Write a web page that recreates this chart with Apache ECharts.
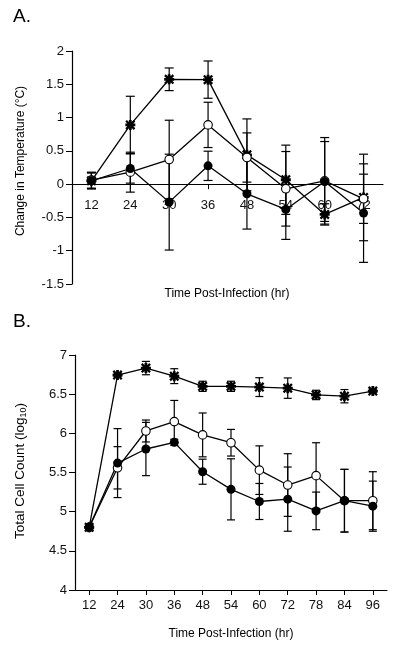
<!DOCTYPE html>
<html>
<head>
<meta charset="utf-8">
<script src="https://cdn.jsdelivr.net/npm/echarts@6/dist/echarts.min.js"></script>
<style>
html,body{margin:0;padding:0;background:#fff;}
#chart{width:400px;height:652px;}
</style>
</head>
<body>
<div id="chart"></div>
<script>
// ---- Panel A data (change in temperature, °C) ----
const catsA = ['12','24','30','36','48','54','60','72'];
const aStar = [0.05, 0.89, 1.575, 1.57, 0.44, 0.066, -0.455, -0.2];
const aStarErr = [0.12, 0.43, 0.17, 0.28, 0.54, 0.52, 0.16, 0.65];
const aOpen = [0.06, 0.18, 0.37, 0.89, 0.40, -0.07, 0.05, -0.22];
const aOpenErr = [0.12, 0.30, 0.59, 0.34, 0.37, 0.56, 0.65, 0.37];
const aFilled = [0.05, 0.235, -0.27, 0.275, -0.145, -0.38, 0.04, -0.435];
const aFilledErr = [0.12, 0.22, 0.72, 0.22, 0.53, 0.45, 0.60, 0.74];

// ---- Panel B data (total cell count, log10) ----
const catsB = ['12','24','30','36','48','54','60','72','78','84','96'];
const bStar = [4.8, 6.744, 6.833, 6.73, 6.60, 6.60, 6.59, 6.577, 6.49, 6.474, 6.54];
const bStarErr = [0, 0.02, 0.085, 0.095, 0.065, 0.065, 0.12, 0.13, 0.06, 0.085, 0.02];
const bOpen = [4.8, 5.56, 6.03, 6.15, 5.98, 5.88, 5.53, 5.34, 5.46, 5.14, 5.14];
const bOpenErr = [0, 0.27, 0.14, 0.27, 0.28, 0.17, 0.31, 0.40, 0.42, 0.40, 0.37];
const bFilled = [4.8, 5.62, 5.80, 5.885, 5.51, 5.285, 5.13, 5.16, 5.01, 5.14, 5.07];
const bFilledErr = [0, 0.44, 0.34, 0.04, 0.16, 0.39, 0.23, 0.41, 0.24, 0.40, 0.32];

const FONT = 'Liberation Sans, Arial, sans-serif';
const STAR = 'path://M0,3.6L10,3.6L10,6.4L0,6.4Z M3.6,0L6.4,0L6.4,10L3.6,10Z M1.6,0L10,8.4L8.4,10L0,1.6Z M8.4,0L10,1.6L1.6,10L0,8.4Z';

const gridA = { left: 72, top: 51, width: 311, height: 233 };
const yMinA = -1.5, yMaxA = 2;
// move panel A's category axis up so it sits on y = 0
const zeroOffsetA = -gridA.height * (0 - yMinA) / (yMaxA - yMinA);

function errData(vals, errs) {
  const out = [];
  vals.forEach((v, i) => { if (errs[i] > 0) out.push([i, v - errs[i], v + errs[i]]); });
  return out;
}
function errSeries(idx, vals, errs, capW) {
  return {
    type: 'custom', xAxisIndex: idx, yAxisIndex: idx, z: 1, silent: true,
    data: errData(vals, errs),
    encode: { x: 0, y: [1, 2] },
    renderItem: function (params, api) {
      const x = api.value(0);
      const lo = api.coord([x, api.value(1)]);
      const hi = api.coord([x, api.value(2)]);
      const st = { stroke: '#000', lineWidth: 1.2 };
      return { type: 'group', children: [
        { type: 'line', shape: { x1: lo[0], y1: lo[1], x2: hi[0], y2: hi[1] }, style: st },
        { type: 'line', shape: { x1: lo[0] - capW / 2, y1: lo[1], x2: lo[0] + capW / 2, y2: lo[1] }, style: st },
        { type: 'line', shape: { x1: hi[0] - capW / 2, y1: hi[1], x2: hi[0] + capW / 2, y2: hi[1] }, style: st }
      ]};
    }
  };
}
function lineSeries(idx, vals, kind) {
  const s = {
    type: 'line', xAxisIndex: idx, yAxisIndex: idx, data: vals, z: 3,
    showAllSymbol: true, animation: false,
    lineStyle: { color: '#000', width: 1.3 },
    itemStyle: { color: '#000' }
  };
  if (kind === 'star') { s.symbol = STAR; s.symbolSize = 10; }
  else if (kind === 'filled') { s.symbol = 'circle'; s.symbolSize = 9; }
  else { s.symbol = 'circle'; s.symbolSize = 8.5; s.itemStyle = { color: '#fff', borderColor: '#000', borderWidth: 1.1 }; }
  return s;
}
const axisLbl = { color: '#111', fontSize: 13, fontFamily: FONT };

const chart = echarts.init(document.getElementById('chart'), null, { renderer: 'canvas' });
chart.setOption({
  animation: false,
  backgroundColor: '#fff',
  grid: [
    gridA,
    { left: 75, top: 355, width: 312, height: 235 }
  ],
  xAxis: [
    { gridIndex: 0, type: 'category', data: catsA, boundaryGap: true, offset: zeroOffsetA,
      axisLine: { onZero: false, lineStyle: { color: '#000', width: 1.2 } },
      axisTick: { show: true, alignWithLabel: true, length: 5, lineStyle: { color: '#000' } },
      axisLabel: Object.assign({ margin: 15 }, axisLbl), splitLine: { show: false } },
    { gridIndex: 1, type: 'category', data: catsB, boundaryGap: true,
      axisLine: { lineStyle: { color: '#000', width: 1.2 } },
      axisTick: { show: true, alignWithLabel: true, length: 5, lineStyle: { color: '#000' } },
      axisLabel: Object.assign({ margin: 9 }, axisLbl), splitLine: { show: false } }
  ],
  yAxis: [
    { gridIndex: 0, type: 'value', min: yMinA, max: yMaxA, interval: 0.5,
      axisLine: { show: true, lineStyle: { color: '#000', width: 1.2 } },
      axisTick: { show: true, length: 6, lineStyle: { color: '#000' } },
      axisLabel: Object.assign({ margin: 8 }, axisLbl), splitLine: { show: false } },
    { gridIndex: 1, type: 'value', min: 4, max: 7, interval: 0.5,
      axisLine: { show: true, lineStyle: { color: '#000', width: 1.2 } },
      axisTick: { show: true, length: 6, lineStyle: { color: '#000' } },
      axisLabel: Object.assign({ margin: 8 }, axisLbl), splitLine: { show: false } }
  ],
  graphic: [
    { type: 'text', left: 13, top: 7, style: { text: 'A.', font: '19px ' + FONT, fill: '#000' } },
    { type: 'text', left: 13, top: 312, style: { text: 'B.', font: '19px ' + FONT, fill: '#000' } },
    { type: 'text', x: 21, y: 161, rotation: Math.PI / 2,
      style: { text: 'Change in Temperature (°C)', font: '12px ' + FONT, fill: '#000', align: 'center', verticalAlign: 'middle' } },
    { type: 'text', x: 227, y: 294,
      style: { text: 'Time Post-Infection (hr)', font: '12px ' + FONT, fill: '#000', align: 'center', verticalAlign: 'middle' } },
    { type: 'text', x: 20, y: 471, rotation: Math.PI / 2,
      style: { text: 'Total Cell Count (log{sub|10})', font: '13.5px ' + FONT, fill: '#000', align: 'center', verticalAlign: 'middle',
        rich: { sub: { fontSize: 9, fontFamily: FONT, verticalAlign: 'bottom', padding: [7, 0, 0, 0], fill: '#000' } } } },
    { type: 'text', x: 231, y: 634,
      style: { text: 'Time Post-Infection (hr)', font: '12px ' + FONT, fill: '#000', align: 'center', verticalAlign: 'middle' } }
  ],
  series: [
    errSeries(0, aStar, aStarErr, 9),
    errSeries(0, aOpen, aOpenErr, 9),
    errSeries(0, aFilled, aFilledErr, 9),
    lineSeries(0, aStar, 'star'),
    lineSeries(0, aOpen, 'open'),
    lineSeries(0, aFilled, 'filled'),
    errSeries(1, bStar, bStarErr, 8),
    errSeries(1, bOpen, bOpenErr, 8),
    errSeries(1, bFilled, bFilledErr, 8),
    lineSeries(1, bStar, 'star'),
    lineSeries(1, bOpen, 'open'),
    lineSeries(1, bFilled, 'filled')
  ]
});
</script>
</body>
</html>
